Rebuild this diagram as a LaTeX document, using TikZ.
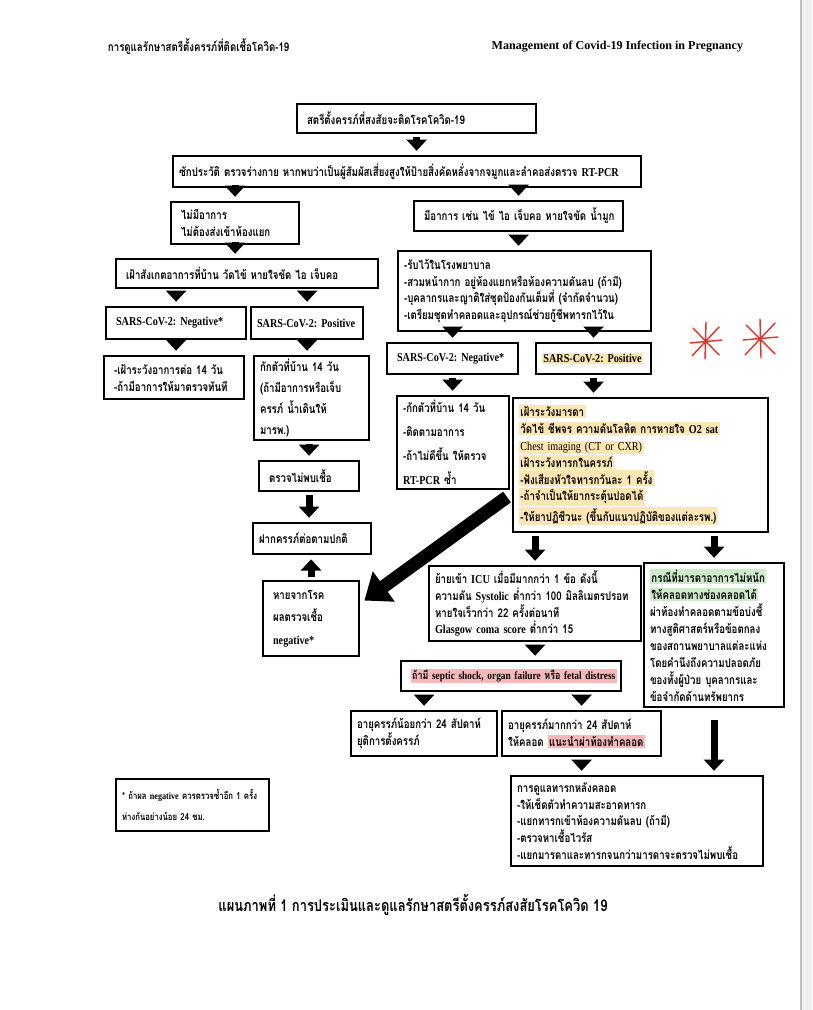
\documentclass[tikz,border=0pt]{standalone}
\usepackage{fontspec}
\setmainfont{Liberation Serif}
\newfontfamily\thaifont[Script=Thai, FakeStretch=0.8]{Loma}
\newfontfamily\enfont[FakeStretch=0.84]{Liberation Serif}
\usetikzlibrary{arrows.meta}

\definecolor{hlyellow}{HTML}{FCE6B4}
\definecolor{hlgreen}{HTML}{CDEBC9}
\definecolor{hlred}{HTML}{F6B8B8}
\definecolor{penred}{HTML}{E2332A}

\hyphenpenalty=10000
\exhyphenpenalty=10000
\newcommand\en[1]{{\enfont\bfseries #1}}
\newcommand\hly[1]{{\fboxsep=1pt\colorbox{hlyellow}{#1}}}
\newcommand\hlg[1]{{\fboxsep=1pt\colorbox{hlgreen}{#1}}}
\newcommand\hlr[1]{{\fboxsep=1pt\colorbox{hlred}{#1}}}

\begin{document}
\begin{tikzpicture}[x=0.025cm, y=-0.025cm,
    every node/.style={font=\thaifont\bfseries\fontsize{8.6}{12}\selectfont},
    cbox/.style 2 args={draw, line width=1.5pt, anchor=north west, align=left,
      inner xsep=0.15cm, inner ysep=2pt, minimum width=#1cm,
      text width=#1cm-0.3cm, minimum height=#2cm},
    blockarrow/.style={line width=0.175cm, -{Triangle[width=0.5cm,length=0.28cm]},
      shorten <=2pt, shorten >=3pt}]
  \useasboundingbox (0,0) rectangle (812,1010);
  \fill[black!6] (801,0) rectangle (812,1010);
  \draw[black!25, line width=1pt] (801,0) -- (801,1010);

  % header and caption
  \node[anchor=west] (headL) at (103,47) {การดูแลรักษาสตรีตั้งครรภ์ที่ติดเชื้อโควิด-19};
  \node[anchor=east] (headR) at (748,47) {\rmfamily\bfseries Management of Covid-19 Infection in Pregnancy};
  \node[font=\thaifont\bfseries\fontsize{11.5}{14}\selectfont] (caption) at (413,905)
    {แผนภาพที่ 1 การประเมินและดูแลรักษาสตรีตั้งครรภ์สงสัยโรคโควิด 19};

  % top
  \node[cbox={5.975}{0.725}] (susp) at (296,103) {~สตรีตั้งครรภ์ที่สงสัยจะติดโรคโควิด-19};
  \node[cbox={11.7}{0.775}] (hist) at (172,155)
    {ซักประวัติ ตรวจร่างกาย หากพบว่าเป็นผู้สัมผัสเสี่ยงสูงให้ป้ายสิ่งคัดหลั่งจากจมูกและลำคอส่งตรวจ \en{RT-PCR}};

  % left branch
  \node[cbox={3.2}{1.05}] (nosym) at (170,201) {~ไม่มีอาการ\\~ไม่ต้องส่งเข้าห้องแยก};
  \node[cbox={6.55}{0.725}] (homeobs) at (115,258) {~เฝ้าสังเกตอาการที่บ้าน วัดไข้ หายใจขัด ไอ เจ็บคอ};
  \node[cbox={3.5}{0.8}] (negL) at (105,306) {~\en{SARS-CoV-2:~Negative*}};
  \node[cbox={2.8}{0.8}] (posL) at (250,306) {\en{SARS-CoV-2:~Positive}};
  \node[cbox={3.5}{1.075}] (watchL) at (103,355) {~-เฝ้าระวังอาการต่อ 14 วัน\\~-ถ้ามีอาการให้มาตรวจทันที};
  \node[cbox={2.875}{1.925}] (quarL) at (253,355)
    {กักตัวที่บ้าน 14 วัน\\[3pt](ถ้ามีอาการหรือเจ็บ\\[3pt]ครรภ์ น้ำเดินให้\\[3pt]มารพ.)};
  \node[cbox={2.5}{0.75}] (clear) at (258,460) {~ตรวจไม่พบเชื้อ};
  \node[cbox={2.95}{0.775}] (anc) at (252,522) {ฝากครรภ์ต่อตามปกติ};
  \node[cbox={2.4}{1.875}] (recov) at (262,580) {~หายจากโรค\\[4pt]~ผลตรวจเชื้อ\\[4pt]~\en{negative*}};
  \node[cbox={3.825}{1.3}, font=\thaifont\bfseries\fontsize{6.9}{11}\selectfont] (note) at (115,778)
    {*~ถ้าผล~\en{negative}~ควรตรวจซ้ำอีก~1~ครั้ง\\[4pt]ห่างกันอย่างน้อย 24 ชม.};

  % right branch
  \node[cbox={5.225}{0.75}] (sym) at (413,200) {~มีอาการ เช่น ไข้ ไอ เจ็บคอ หายใจขัด น้ำมูก};
  \node[cbox={6.325}{2.0}] (admit) at (397,250)
    {-รับไว้ในโรงพยาบาล\\-สวมหน้ากาก อยู่ห้องแยกหรือห้องความดันลบ (ถ้ามี)\\-บุคลากรและญาติใส่ชุดป้องกันเต็มที่ (จำกัดจำนวน)\\-เตรียมชุดทำคลอดและอุปกรณ์ช่วยกู้ชีพทารกไว้ใน};
  \node[cbox={3.275}{0.775}] (negR) at (386,342) {~\en{SARS-CoV-2:~Negative*}};
  \node[cbox={2.875}{0.775}] (posR) at (535,342) {\hly{\en{SARS-CoV-2:~Positive}}};
  \node[cbox={2.8}{2.325}] (quarR) at (396,395)
    {-กักตัวที่บ้าน 14 วัน\\[5pt]-ติดตามอาการ\\[5pt]-ถ้าไม่ดีขึ้น ให้ตรวจ\\[5pt]\en{RT-PCR} ซ้ำ};
  \node[cbox={6.375}{3.35}] (monitor) at (512,397)
    {\hly{เฝ้าระวังมารดา}\\ \hly{วัดไข้ ชีพจร ความดันโลหิต การหายใจ \en{O2 sat}}\\
     \hly{\enfont\mdseries Chest imaging (CT or CXR)}\\ \hly{เฝ้าระวังทารกในครรภ์}\\
     \hly{-ฟังเสียงหัวใจทารกวันละ 1 ครั้ง}\\ \hly{-ถ้าจำเป็นให้ยากระตุ้นปอดได้}\\
     \hly{-ให้ยาปฏิชีวนะ (ขึ้นกับแนวปฏิบัติของแต่ละรพ.)}};
  \node[cbox={5.3}{1.875}] (icu) at (428,565)
    {ย้ายเข้า \en{ICU} เมื่อมีมากกว่า 1 ข้อ ดังนี้\\ความดัน \en{Systolic} ต่ำกว่า 100 มิลลิเมตรปรอท\\หายใจเร็วกว่า 22 ครั้งต่อนาที\\\en{Glasgow coma score} ต่ำกว่า 15};
  \node[cbox={3.5}{3.6}] (mild) at (643,562)
    {\hlg{กรณีที่มารดาอาการไม่หนัก}\\ \hlg{ให้คลอดทางช่องคลอดได้}\\ผ่าท้องทำคลอดตามข้อบ่งชี้\\ทางสูติศาสตร์หรือข้อตกลง\\ของสถานพยาบาลแต่ละแห่ง\\โดยคำนึงถึงความปลอดภัย\\ของทั้งผู้ป่วย บุคลากรและ\\ข้อจำกัดด้านทรัพยากร};
  \node[cbox={5.5}{0.75}, font=\thaifont\bfseries\fontsize{7.9}{11}\selectfont] (severe) at (400,660)
    {~\hlr{ถ้ามี \en{septic shock, organ failure} หรือ \en{fetal distress}}};
  \node[cbox={3.65}{1.125}] (lt24) at (350,710) {อายุครรภ์น้อยกว่า 24 สัปดาห์\\ยุติการตั้งครรภ์};
  \node[cbox={3.975}{1.125}] (gt24) at (501,710) {อายุครรภ์มากกว่า 24 สัปดาห์\\ให้คลอด \hlr{แนะนำผ่าท้องทำคลอด}};
  \node[cbox={6.3}{2.25}] (newborn) at (510,775)
    {การดูแลทารกหลังคลอด\\-ให้เช็ดตัวทำความสะอาดทารก\\-แยกทารกเข้าห้องความดันลบ (ถ้ามี)\\-ตรวจหาเชื้อไวรัส\\-แยกมารดาและทารกจนกว่ามารดาจะตรวจไม่พบเชื้อ};

  % arrows
  \draw[blockarrow] (susp.south) -- (susp.south |- hist.north);
  \draw[blockarrow] (hist.south -| nosym.north) -- (nosym.north);
  \draw[blockarrow] (hist.south -| sym.north) -- (sym.north);
  \draw[blockarrow] (nosym.south) -- (nosym.south |- homeobs.north);
  \draw[blockarrow] (homeobs.south -| negL.north) -- (negL.north);
  \draw[blockarrow] (homeobs.south -| posL.north) -- (posL.north);
  \draw[blockarrow] (negL.south) -- (negL.south |- watchL.north);
  \draw[blockarrow] (posL.south) -- (posL.south |- quarL.north);
  \draw[blockarrow] (quarL.south -| clear.north) -- (clear.north);
  \draw[blockarrow] (clear.south) -- (clear.south |- anc.north);
  \draw[blockarrow] (recov.north) -- (recov.north |- anc.south);
  \draw[blockarrow] (sym.south) -- (sym.south |- admit.north);
  \draw[blockarrow] (admit.south -| negR.north) -- (negR.north);
  \draw[blockarrow] (admit.south -| posR.north) -- (posR.north);
  \draw[blockarrow] (negR.south) -- (negR.south |- quarR.north);
  \draw[blockarrow] (posR.south) -- (posR.south |- monitor.north);
  \draw[blockarrow] (monitor.south -| icu.north) -- (icu.north);
  \draw[blockarrow] (monitor.south -| mild.north) -- (mild.north);
  \draw[blockarrow] (icu.south) -- (icu.south |- severe.north);
  \draw[blockarrow] (severe.south -| lt24.north) -- (lt24.north);
  \draw[blockarrow] (severe.south -| gt24.north) -- (gt24.north);
  \draw[blockarrow] (gt24.south) -- (gt24.south |- newborn.north);
  \draw[blockarrow, shorten <=0.3cm] (mild.south) -- (mild.south |- newborn.north);
  \coordinate (diag) at (507,497);
  \draw[line width=0.33cm, -{Triangle[width=0.9cm,length=0.6cm]}]
    (diag) -- ([xshift=3pt,yshift=0.45cm]recov.east);

  % red pen marks
  \begin{scope}[penred, line width=1pt, line cap=round]
    \draw (706,322) -- (705,359) (690,343) -- (722,340)
          (693,328) -- (719,355) (719,327) -- (692,356);
    \draw (760,319) -- (761,358) (743,340) -- (778,337)
          (746,325) -- (775,354) (775,323) -- (745,355);
  \end{scope}
\end{tikzpicture}
\end{document}
